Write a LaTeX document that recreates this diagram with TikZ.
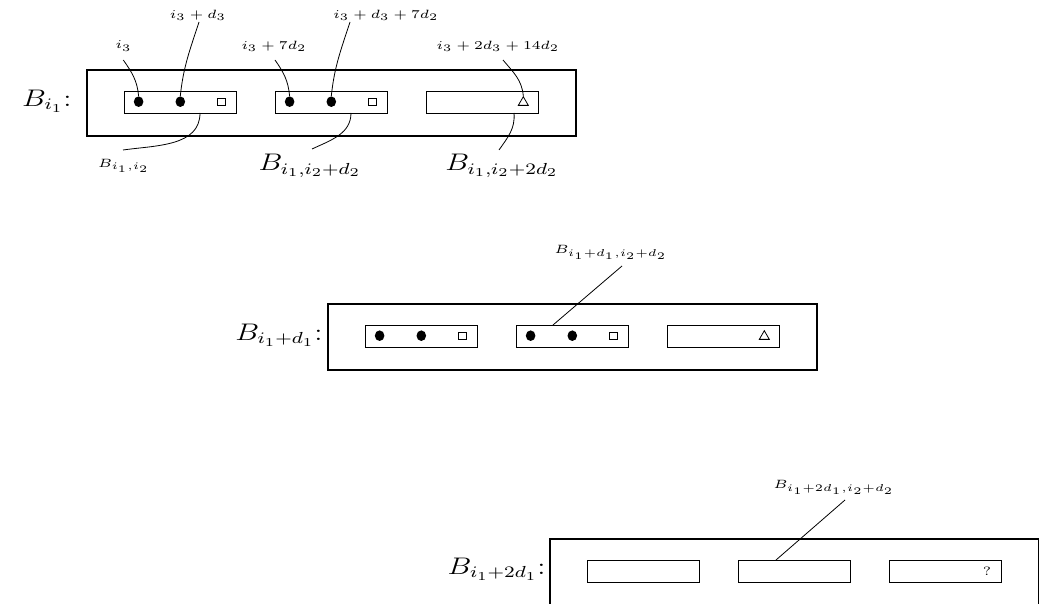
\documentclass[tikz,border=0pt]{standalone}
\usetikzlibrary{shapes.geometric}
\newcommand{\hb}[1]{\scalebox{1.25}[1]{#1}}
\newcommand{\hs}[1]{\scalebox{1.2}[1]{#1}}
\tikzset{
  outer/.style={draw, line width=1.1pt, minimum width=244.5pt, minimum height=33pt, inner sep=0pt, anchor=north west},
  inbox/.style={draw, line width=0.6pt, minimum width=56.3pt, minimum height=11pt, inner sep=0pt, anchor=north west},
  dot/.style={ellipse, fill=black, minimum width=4.8pt, minimum height=5.3pt, inner sep=0pt},
  sq/.style={draw, line width=0.4pt, minimum size=3.8pt, inner sep=0pt},
  tri/.style={regular polygon, regular polygon sides=3, draw, line width=0.4pt, minimum size=5.8pt, inner sep=0pt},
  big/.style={font=\fontsize{12}{14}\selectfont, inner sep=0pt},
  small/.style={font=\fontsize{6}{7}\selectfont, inner sep=0pt},
  conn/.style={line width=0.4pt},
}
\begin{document}
\begin{tikzpicture}[x=0.5pt,y=0.5pt]
\useasboundingbox (0,0) rectangle (1039,-604);
% ---------- row 1 ----------
\node[outer] (R1) at (86,-69) {};
\node[inbox] (b11) at (123.6,-91) {};
\node[inbox] (b12) at (274.6,-91) {};
\node[inbox] (b13) at (425.6,-91) {};
\node[dot] (d11) at (138.6,-101.7) {};
\node[dot] (d12) at (180.3,-101.7) {};
\node[sq]  (s11) at (221.3,-102) {};
\node[dot] (d13) at (289.6,-101.7) {};
\node[dot] (d14) at (331.3,-101.7) {};
\node[sq]  (s12) at (372.3,-102) {};
\node[tri] (t11) at (523.3,-102.5) {};
\node[big, anchor=east] (L1) at (72,-101) {\hb{$B_{i_1}$:}};
\node[small] (li3) at (123.5,-46) {\hs{$i_3$}};
\node[small] (li3d3) at (198,-15) {\hs{$i_3+d_3$}};
\node[small] (li37) at (274,-46) {\hs{$i_3+7d_2$}};
\node[small] (li3d37) at (386,-15) {\hs{$i_3+d_3+7d_2$}};
\node[small] (li314) at (498,-46) {\hs{$i_3+2d_3+14d_2$}};
\node[small] (lb11) at (124,-166) {\hs{$B_{i_1,i_2}$}};
\node[big] (lb12) at (310,-166) {\hb{$B_{i_1,i_2+d_2}$}};
\node[big] (lb13) at (502,-166) {\hb{$B_{i_1,i_2+2d_2}$}};
\coordinate (p1) at (123.3,-60);
\coordinate (p2) at (199,-22);
\coordinate (p3) at (275,-60);
\coordinate (p4) at (350,-22);
\coordinate (p5) at (503,-60);
\draw[conn] (p1) to[out=-55,in=95] (d11.north);
\draw[conn] (p2) to[out=-108,in=84] (d12.north);
\draw[conn] (p3) to[out=-55,in=95] (d13.north);
\draw[conn] (p4) to[out=-108,in=84] (d14.north);
\draw[conn] (p5) to[out=-50,in=95] (t11.north);
\coordinate (q1) at (200,-113);
\coordinate (q1e) at (123,-150);
\coordinate (q2) at (351,-113);
\coordinate (q2e) at (312,-149);
\coordinate (q3) at (514,-113);
\coordinate (q3e) at (499,-150);
\draw[conn] (q1) to[out=-90,in=8] (q1e);
\draw[conn] (q2) to[out=-90,in=25] (q2e);
\draw[conn] (q3) to[out=-85,in=55] (q3e);
% ---------- row 2 ----------
\node[outer] (R2) at (327,-303) {};
\node[inbox] (b21) at (364.6,-325) {};
\node[inbox] (b22) at (515.6,-325) {};
\node[inbox] (b23) at (666.6,-325) {};
\node[dot] (d21) at (379.6,-335.7) {};
\node[dot] (d22) at (421.3,-335.7) {};
\node[sq]  (s21) at (462.3,-336) {};
\node[dot] (d23) at (530.6,-335.7) {};
\node[dot] (d24) at (572.3,-335.7) {};
\node[sq]  (s22) at (613.3,-336) {};
\node[tri] (t21) at (764.3,-336.5) {};
\node[big, anchor=east] (L2) at (323,-335) {\hb{$B_{i_1+d_1}$:}};
\node[small] (lb22) at (611,-252) {\hs{$B_{i_1+d_1,i_2+d_2}$}};
\coordinate (r2a) at (622,-266);
\coordinate (r2b) at (553,-325);
\draw[conn] (r2a) -- (r2b);
% ---------- row 3 ----------
\node[outer] (R3) at (549,-538) {};
\node[inbox] (b31) at (586.6,-560) {};
\node[inbox] (b32) at (737.6,-560) {};
\node[inbox] (b33) at (888.6,-560) {};
\node[small] (qm) at (987,-571) {\hs{?}};
\node[big, anchor=east] (L3) at (546,-569) {\hb{$B_{i_1+2d_1}$:}};
\node[small] (lb32) at (834,-487) {\hs{$B_{i_1+2d_1,i_2+d_2}$}};
\coordinate (r3a) at (845,-500);
\coordinate (r3b) at (776,-560);
\draw[conn] (r3a) -- (r3b);
\end{tikzpicture}
\end{document}
